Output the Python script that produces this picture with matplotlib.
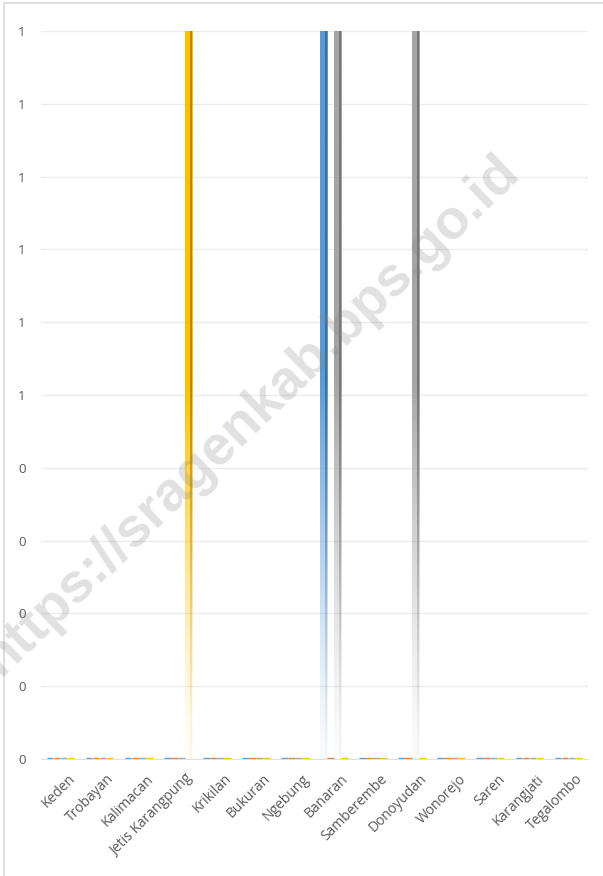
import numpy as np
import matplotlib
matplotlib.use("Agg")
import matplotlib.pyplot as plt
from matplotlib.colors import to_rgb
from matplotlib.patches import Rectangle
from matplotlib.ticker import FuncFormatter
import matplotlib.transforms as mtransforms

categories = ["Keden", "Trobayan", "Kalimacan", "Jetis Karangpung", "Krikilan",
              "Bukuran", "Ngebung", "Banaran", "Samberembe", "Donoyudan",
              "Wonorejo", "Saren", "Karangjati", "Tegalombo"]
series_names = ["Seri 1", "Seri 2", "Seri 3", "Seri 4"]
s1 = [0, 0, 0, 0, 0, 0, 0, 1, 0, 0, 0, 0, 0, 0]
s2 = [0, 0, 0, 0, 0, 0, 0, 0, 0, 0, 0, 0, 0, 0]
s3 = [0, 0, 0, 0, 0, 0, 0, 1, 0, 1, 0, 0, 0, 0]
s4 = [0, 0, 0, 1, 0, 0, 0, 0, 0, 0, 0, 0, 0, 0]
series = [s1, s2, s3, s4]
colors = ["#5B9BD5", "#ED7D31", "#A5A5A5", "#FFC000"]

plt.rcParams['font.family'] = ['Open Sans', 'DejaVu Sans']

fig = plt.figure(figsize=(6.03, 8.76), dpi=100)
ax = fig.add_axes([41/603, 1-759/876, (588-41)/603, (759-31)/876])

n = len(categories)
x = np.arange(n)
w = 0.18
offsets = [-1.5*w, -0.5*w, 0.5*w, 1.5*w]

def darker(c, f=0.7):
    r, g, b = to_rgb(c)
    return (r*f, g*f, b*f)

for vals, col, off, name in zip(series, colors, offsets, series_names):
    xs = x + off
    ax.bar(xs, [0]*n, width=w*0.95, bottom=vals, color=col, edgecolor=col,
           linewidth=2.4, zorder=3, label=name)
    for xi, v in zip(xs, vals):
        if v > 0:
            npx = 200
            t = np.linspace(0, 1, npx)
            alpha = np.clip(t / 0.52, 0, 1) ** 1.4
            alpha = 0.04 + 0.96 * alpha
            rgb = np.array(to_rgb(col))
            img = np.zeros((npx, 2, 4))
            img[:, :, :3] = rgb
            img[:, :, 3] = alpha[:, None]
            ax.imshow(img, extent=[xi - w/2, xi + w/2, 0, v], origin='lower',
                      aspect='auto', zorder=3, interpolation='bilinear')
            img2 = img.copy()
            img2[:, :, :3] = np.array(darker(col, 0.72))
            ax.imshow(img2, extent=[xi + w*0.25, xi + w/2, 0, v], origin='lower',
                      aspect='auto', zorder=3.1, interpolation='bilinear')

ax.set_xlim(-0.5, n - 0.5)
ax.set_ylim(0, 1.0)
ax.set_yticks(np.arange(0, 1.01, 0.1))
ax.yaxis.set_major_formatter(FuncFormatter(lambda v, p: str(int(np.floor(v + 0.5 + 1e-9)))))
ax.grid(axis='y', color='#ebebeb', linewidth=1.0, zorder=0)
ax.set_axisbelow(True)
for s in ['top', 'right', 'left']:
    ax.spines[s].set_visible(False)
ax.spines['bottom'].set_color('#e0e0e0')
ax.spines['bottom'].set_zorder(1)
ax.tick_params(axis='both', length=0, labelsize=9.5, labelcolor='#595959')
ax.tick_params(axis='y', pad=11)
ax.set_xticks(x)
ax.set_xticklabels(categories, rotation=45, ha='right', va='top', rotation_mode='anchor',
                   fontsize=10)
ax.tick_params(axis='x', pad=9)
shift = mtransforms.ScaledTranslation(7/100, 0, fig.dpi_scale_trans)
for lab in ax.get_xticklabels():
    lab.set_transform(lab.get_transform() + shift)

fig.patches.append(Rectangle((4/603, -0.05), 1.1, 1 - 3/876 + 0.05,
                             transform=fig.transFigure, fill=False,
                             edgecolor='#d9d9d9', linewidth=1.2))

fig.text(0.415, 0.525, "https://sragenkab.bps.go.id", rotation=44, fontsize=40,
         fontweight='bold', color='#808080', alpha=0.24, ha='center', va='center',
         family=['Liberation Sans', 'DejaVu Sans'], zorder=10)

fig.savefig("out.png", dpi=100)
